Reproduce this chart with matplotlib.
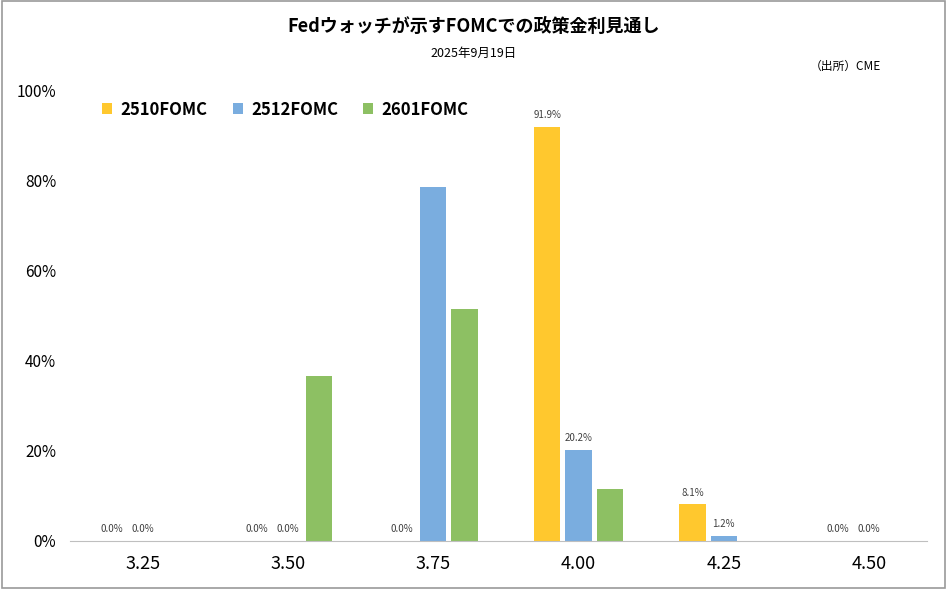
import matplotlib
matplotlib.use("Agg")
import matplotlib.pyplot as plt
import numpy as np
from matplotlib.patches import Rectangle

plt.rcParams['font.family'] = ['Noto Sans CJK JP', 'DejaVu Sans']

categories = ["3.25", "3.50", "3.75", "4.00", "4.25", "4.50"]
s2510 = [0.0, 0.0, 0.0, 91.9, 8.1, 0.0]
s2512 = [0.0, 0.0, 78.6, 20.2, 1.2, 0.0]
s2601 = [0.0, 36.5, 51.5, 11.5, 0.0, 0.0]
labels2510 = [True, True, True, True, True, True]
labels2512 = [True, True, False, True, True, True]
names = ["2510FOMC", "2512FOMC", "2601FOMC"]
colors = ["#FFC82E", "#7AADDF", "#8DC063"]

fig = plt.figure(figsize=(9.47, 5.89), dpi=100)
fig.patches.append(Rectangle((0.002, 0.002), 0.996, 0.996, transform=fig.transFigure,
                             fill=False, edgecolor="#9a9a9a", linewidth=1.2))
ax = fig.add_axes([0.074, 0.0815, 0.905, 0.7655])
x = np.arange(len(categories))
w = 0.18
off = 0.215
b1 = ax.bar(x - off, s2510, w, color=colors[0], label=names[0])
b2 = ax.bar(x, s2512, w, color=colors[1], label=names[1])
b3 = ax.bar(x + off, s2601, w, color=colors[2], label=names[2])
for bars, vals, show in [(b1, s2510, labels2510), (b2, s2512, labels2512)]:
    for r, v, s in zip(bars, vals, show):
        if s:
            ax.text(r.get_x() + r.get_width() / 2, v + 1.5, f"{v:.1f}%", ha="center",
                    va="bottom", fontsize=7, color="#404040")

ax.set_xlim(-0.5, 5.4)
ax.set_ylim(0, 100)
ax.set_yticks(np.arange(0, 101, 20))
ax.set_yticklabels([f"{t}%" for t in range(0, 101, 20)], fontsize=11)
ax.set_xticks(x)
ax.set_xticklabels(categories, fontsize=13)
ax.tick_params(axis='both', length=0, pad=10)
for sp in ["top", "right", "left"]:
    ax.spines[sp].set_visible(False)
ax.spines["bottom"].set_color("#bfbfbf")

ax.legend(loc="upper left", bbox_to_anchor=(0.02, 1.01), ncol=3, frameon=False,
          prop={'weight': 'bold', 'size': 12}, handlelength=0.6, handleheight=0.6,
          columnspacing=1.5, handletextpad=0.5)

fig.text(0.5, 0.955, "Fedウォッチが示すFOMCでの政策金利見通し", ha="center", va="center",
         fontsize=13, fontweight="bold")
fig.text(0.5, 0.91, "2025年9月19日", ha="center", va="center", fontsize=9)
fig.text(0.93, 0.888, "（出所）CME", ha="right", va="center", fontsize=8.5)

fig.savefig("out.png", dpi=100)
